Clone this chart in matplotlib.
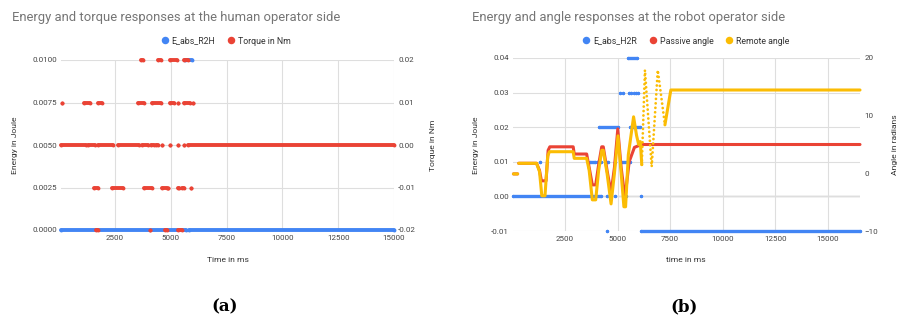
import matplotlib
matplotlib.use('Agg')
import matplotlib.pyplot as plt
from matplotlib.lines import Line2D
import numpy as np

plt.rcParams['font.family'] = ['Roboto', 'DejaVu Sans']

BLUE = '#4285f4'
RED = '#ea4335'
YELLOW = '#fbbc04'
GRID = '#dedede'
TICK = '#444444'

# ---- (a) human operator side: runs of constant value (t_start, t_end, value) ----
e_r2h_runs = [(80, 5680, 0.0), (5820, 15000, 0.0), (5640, 5950, 0.01)]

torque_runs = [
    # 0.02 Nm
    (3670, 3760, 0.02), (4430, 4560, 0.02), (4960, 5280, 0.02), (5590, 5760, 0.02),
    # 0.01 Nm
    (140, 140, 0.01), (1110, 1380, 0.01), (1740, 1920, 0.01), (3530, 3800, 0.01),
    (4160, 4560, 0.01), (4960, 5140, 0.01), (5320, 5320, 0.01), (5590, 5860, 0.01),
    (5990, 5990, 0.01),
    # 0 Nm
    (80, 1200, 0.0), (1290, 1600, 0.0), (1740, 2410, 0.0), (2630, 3570, 0.0),
    (3700, 3980, 0.0), (4110, 4250, 0.0), (4340, 4430, 0.0), (4600, 4600, 0.0),
    (4960, 4960, 0.0), (5320, 5320, 0.0), (5590, 5590, 0.0), (5770, 15000, 0.0),
    # -0.01 Nm
    (1560, 1740, -0.01), (2360, 2860, -0.01), (3800, 4160, -0.01), (4600, 4830, -0.01),
    (4870, 4870, -0.01), (5320, 5370, -0.01), (5500, 5590, -0.01), (5910, 5910, -0.01),
    # -0.02 Nm
    (1650, 1740, -0.02), (4070, 4070, -0.02), (4740, 4830, -0.02), (5320, 5500, -0.02),
]

# ---- (b) robot operator side ----
e_h2r_runs = [
    (50, 4200, 0.0), (4500, 4500, 0.0), (4860, 4860, 0.0), (5400, 5400, 0.0), (6110, 6110, 0.0),
    (4500, 4500, -0.01), (6110, 16520, -0.01),
    (1310, 1310, 0.01), (3680, 3920, 0.01), (4020, 4200, 0.01), (4390, 4550, 0.01),
    (4860, 4860, 0.01), (5180, 5580, 0.01),
    (4120, 5020, 0.02), (5600, 6060, 0.02),
    (5130, 5130, 0.03), (5250, 5250, 0.03), (5520, 5520, 0.03), (5630, 5630, 0.03),
    (5800, 5800, 0.03), (5890, 5890, 0.03), (5980, 5980, 0.03),
    (5510, 5910, 0.04),
]

passive_t = [50, 250, 260, 300, 1150, 1290, 1380, 1600, 1700, 1780, 2890, 2940, 3530,
             3650, 3800, 3960, 4100, 4245, 4320, 4500, 4690, 4850, 5010, 5170, 5350,
             5550, 5800, 6140, 16520]
passive_angle = [-0.1, -0.1, np.nan, 1.74, 1.74, 0.5, -1.3, -1.3, 4.0, 4.6, 4.6, 3.35, 3.35,
                 1.0, -2.0, -2.0, 1.5, 4.6, 4.6, 0.5, -3.4, 1.0, 7.7, 1.0, -4.3,
                 2.0, 4.5, 5.0, 5.0]

remote_t = [50, 250, 260, 300, 1150, 1290, 1400, 1550, 1680, 1760, 2890, 2940, 3530,
            3650, 3800, 3960, 4100, 4250, 4320, 4500, 4690, 4850, 5020, 5170, 5300,
            5380, 5510, 5760, 5900, 6000, 6080, 6150, 6300, 6620, 6910, 7250, 7530, 16520]
remote_angle = [-0.1, -0.1, np.nan, 1.74, 1.74, 0.3, -3.9, -3.9, 3.0, 3.75, 3.75, 2.6, 2.6,
                0.5, -4.6, -4.6, 0.5, 4.0, 4.0, 0.0, -5.3, 0.0, 6.5, 0.0, -5.8,
                -5.8, 3.2, 9.8, 6.6, 5.0, 5.5, 1.5, 17.9, 1.15, 17.9, 8.4, 14.45, 14.45]

x_ticks = [2500, 5000, 7500, 10000, 12500, 15000]

fig = plt.figure(figsize=(8.98, 3.2), dpi=100)
W, H = 898, 320


def base_axes(rect):
    ax = fig.add_axes(rect)
    axr = ax.twinx()
    for a in (ax, axr):
        for s in a.spines.values():
            s.set_visible(False)
        a.tick_params(length=0, labelsize=5.8, labelcolor=TICK, pad=3)
    ax.tick_params(axis='x', pad=3.5)
    ax.set_xticks(x_ticks)
    ax.set_xticklabels([str(t) for t in x_ticks])
    ax.grid(True, color=GRID, lw=0.8)
    ax.set_axisbelow(True)
    return ax, axr


def draw_runs(ax, runs, color, lw=2.8):
    for t0, t1, v in runs:
        ax.plot([t0, t1], [v, v], color=color, lw=lw, solid_capstyle='round',
                marker='o', ms=lw, mew=0, clip_on=False)


# (a)
ax1, ax1r = base_axes([61 / W, 90 / H, 333 / W, 170 / H])
ax1.set_xlim(80, 15000)
ax1.set_ylim(0, 0.01)
ax1.set_yticks([0, 0.0025, 0.005, 0.0075, 0.01])
ax1.set_yticklabels(['0.0000', '0.0025', '0.0050', '0.0075', '0.0100'])
ax1r.set_ylim(-0.02, 0.02)
ax1r.set_yticks([-0.02, -0.01, 0, 0.01, 0.02])
ax1r.set_yticklabels(['-0.02', '-0.01', '0.00', '0.01', '0.02'])
draw_runs(ax1, e_r2h_runs, BLUE)
draw_runs(ax1r, torque_runs, RED)

# (b)
ax2, ax2r = base_axes([513 / W, 89 / H, 347 / W, 173 / H])
ax2.set_xlim(30, 16520)
ax2.set_ylim(-0.01, 0.04)
ax2.set_yticks([-0.01, 0, 0.01, 0.02, 0.03, 0.04])
ax2.set_yticklabels(['-0.01', '0.00', '0.01', '0.02', '0.03', '0.04'])
ax2.axhline(0, color='#9a9a9a', lw=0.9, zorder=0.5)
ax2r.set_ylim(-10, 20)
ax2r.set_yticks([-10, 0, 10, 20])
draw_runs(ax2, e_h2r_runs, BLUE, lw=2.4)

line_kw = dict(lw=2.2, solid_capstyle='round', solid_joinstyle='round', clip_on=False)
ax2r.plot(passive_t, passive_angle, color=RED, **line_kw)

rt = np.array(remote_t)
ra = np.array(remote_angle)
fast = (rt >= 6150) & (rt <= 7250)
slow_a = (rt <= 6150)
slow_b = (rt >= 7250)
ax2r.plot(rt[slow_a], ra[slow_a], color=YELLOW, **line_kw)
ax2r.plot(rt[fast], ra[fast], color=YELLOW, lw=2.0, linestyle=(0, (0.01, 1.6)),
          dash_capstyle='round', clip_on=False)
ax2r.plot(rt[slow_b], ra[slow_b], color=YELLOW, **line_kw)

# titles, legends and axis names
title_kw = dict(fontsize=9.4, color='#757575', va='center', ha='left')
fig.text(12 / W, 1 - 18 / H, 'Energy and torque responses at the human operator side', **title_kw)
fig.text(472 / W, 1 - 18 / H, 'Energy and angle responses at the robot operator side', **title_kw)


def dot(c):
    return Line2D([], [], color=c, marker='o', ls='none', ms=5.4, mew=0)


leg_kw = dict(loc='center', frameon=False, fontsize=6.3, handletextpad=0.4,
              columnspacing=1.4, handlelength=0.8, labelcolor='#333333')
fig.legend([dot(BLUE), dot(RED)], ['E_abs_R2H', 'Torque in Nm'], ncol=2,
           bbox_to_anchor=(226 / W, 1 - 41 / H), **leg_kw)
fig.legend([dot(BLUE), dot(RED), dot(YELLOW)], ['E_abs_H2R', 'Passive angle', 'Remote angle'],
           ncol=3, bbox_to_anchor=(686 / W, 1 - 41 / H), **leg_kw)

lab_kw = dict(fontsize=6.1, color='#333333', ha='center', va='center')
fig.text(15 / W, 1 - 145 / H, 'Energy in Joule', rotation=90, **lab_kw)
fig.text(433 / W, 1 - 145 / H, 'Torque in Nm', rotation=90, **lab_kw)
fig.text(228 / W, 1 - 260 / H, 'Time in ms', **lab_kw)
fig.text(476 / W, 1 - 145 / H, 'Energy in Joule', rotation=90, **lab_kw)
fig.text(895 / W, 1 - 145 / H, 'Angle in radians', rotation=90, **lab_kw)
fig.text(686 / W, 1 - 260 / H, 'time in ms', **lab_kw)

cap_kw = dict(fontsize=12, fontweight='bold', family='DejaVu Serif', ha='center', va='center')
fig.text(225 / W, 1 - 307 / H, '(a)', **cap_kw)
fig.text(684 / W, 1 - 307 / H, '(b)', **cap_kw)

fig.savefig('out.png', dpi=100)
